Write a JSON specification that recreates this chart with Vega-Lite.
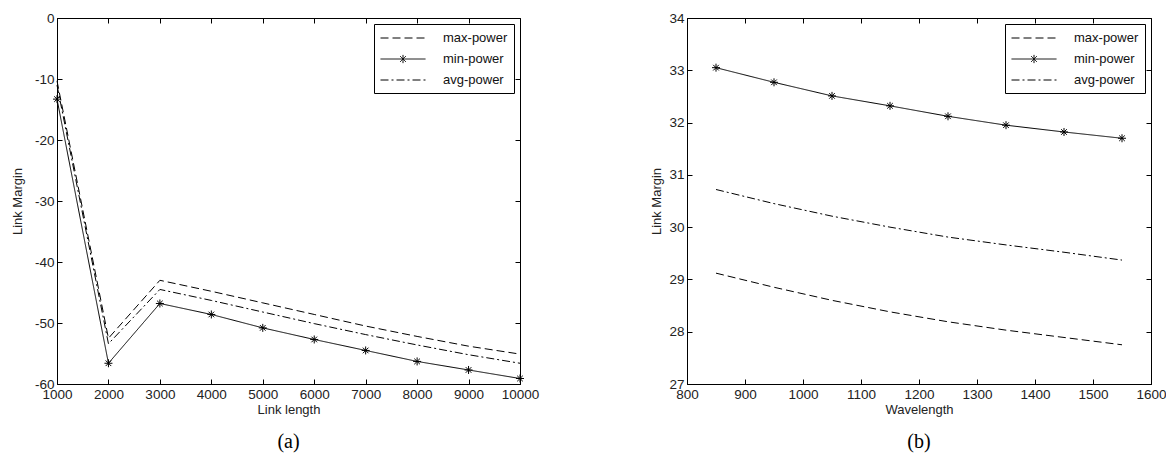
{
  "$schema": "https://vega.github.io/schema/vega-lite/v6.json",
  "background": "white",
  "padding": {"left": 10, "top": 10, "right": 5, "bottom": 5},
  "datasets": {
    "a": [
      {"length": 1000, "margin": -10.3, "series": "max-power"},
      {"length": 2000, "margin": -52.5, "series": "max-power"},
      {"length": 3000, "margin": -43.0, "series": "max-power"},
      {"length": 4000, "margin": -44.8, "series": "max-power"},
      {"length": 5000, "margin": -46.7, "series": "max-power"},
      {"length": 6000, "margin": -48.6, "series": "max-power"},
      {"length": 7000, "margin": -50.5, "series": "max-power"},
      {"length": 8000, "margin": -52.2, "series": "max-power"},
      {"length": 9000, "margin": -53.8, "series": "max-power"},
      {"length": 10000, "margin": -55.1, "series": "max-power"},
      {"length": 1000, "margin": -13.3, "series": "min-power"},
      {"length": 2000, "margin": -56.6, "series": "min-power"},
      {"length": 3000, "margin": -46.8, "series": "min-power"},
      {"length": 4000, "margin": -48.6, "series": "min-power"},
      {"length": 5000, "margin": -50.8, "series": "min-power"},
      {"length": 6000, "margin": -52.7, "series": "min-power"},
      {"length": 7000, "margin": -54.5, "series": "min-power"},
      {"length": 8000, "margin": -56.3, "series": "min-power"},
      {"length": 9000, "margin": -57.7, "series": "min-power"},
      {"length": 10000, "margin": -59.1, "series": "min-power"},
      {"length": 1000, "margin": -11.0, "series": "avg-power"},
      {"length": 2000, "margin": -53.4, "series": "avg-power"},
      {"length": 3000, "margin": -44.5, "series": "avg-power"},
      {"length": 4000, "margin": -46.3, "series": "avg-power"},
      {"length": 5000, "margin": -48.2, "series": "avg-power"},
      {"length": 6000, "margin": -50.1, "series": "avg-power"},
      {"length": 7000, "margin": -51.9, "series": "avg-power"},
      {"length": 8000, "margin": -53.6, "series": "avg-power"},
      {"length": 9000, "margin": -55.2, "series": "avg-power"},
      {"length": 10000, "margin": -56.6, "series": "avg-power"}
    ],
    "b": [
      {"wavelength": 850, "margin": 29.12, "series": "max-power"},
      {"wavelength": 950, "margin": 28.85, "series": "max-power"},
      {"wavelength": 1050, "margin": 28.6, "series": "max-power"},
      {"wavelength": 1150, "margin": 28.38, "series": "max-power"},
      {"wavelength": 1250, "margin": 28.19, "series": "max-power"},
      {"wavelength": 1350, "margin": 28.03, "series": "max-power"},
      {"wavelength": 1450, "margin": 27.89, "series": "max-power"},
      {"wavelength": 1550, "margin": 27.75, "series": "max-power"},
      {"wavelength": 850, "margin": 33.05, "series": "min-power"},
      {"wavelength": 950, "margin": 32.77, "series": "min-power"},
      {"wavelength": 1050, "margin": 32.51, "series": "min-power"},
      {"wavelength": 1150, "margin": 32.32, "series": "min-power"},
      {"wavelength": 1250, "margin": 32.12, "series": "min-power"},
      {"wavelength": 1350, "margin": 31.95, "series": "min-power"},
      {"wavelength": 1450, "margin": 31.82, "series": "min-power"},
      {"wavelength": 1550, "margin": 31.7, "series": "min-power"},
      {"wavelength": 850, "margin": 30.72, "series": "avg-power"},
      {"wavelength": 950, "margin": 30.45, "series": "avg-power"},
      {"wavelength": 1050, "margin": 30.21, "series": "avg-power"},
      {"wavelength": 1150, "margin": 30.0, "series": "avg-power"},
      {"wavelength": 1250, "margin": 29.81, "series": "avg-power"},
      {"wavelength": 1350, "margin": 29.66, "series": "avg-power"},
      {"wavelength": 1450, "margin": 29.52, "series": "avg-power"},
      {"wavelength": 1550, "margin": 29.37, "series": "avg-power"}
    ]
  },
  "hconcat": [
    {
      "width": 463,
      "height": 366,
      "data": {"name": "a"},
      "title": {"text": "(a)", "orient": "bottom", "anchor": "middle", "font": "Liberation Serif", "fontSize": 20, "fontWeight": "normal", "color": "#000", "offset": 15},
      "layer": [
        {
          "mark": {"type": "line", "color": "black", "strokeWidth": 1},
          "encoding": {
            "x": {"field": "length", "type": "quantitative", "scale": {"domain": [1000, 10000], "nice": false, "zero": false},
                  "axis": {"title": "Link length", "values": [1000, 2000, 3000, 4000, 5000, 6000, 7000, 8000, 9000, 10000], "labelExpr": "'' + datum.value"}},
            "y": {"field": "margin", "type": "quantitative", "scale": {"domain": [-60, 0], "nice": false, "zero": false},
                  "axis": {"title": "Link Margin", "values": [-60, -50, -40, -30, -20, -10, 0], "labelExpr": "'' + datum.value", "titlePadding": 10}},
            "strokeDash": {"field": "series", "type": "nominal",
                  "scale": {"domain": ["max-power", "min-power", "avg-power"], "range": [[8, 4], [1, 0], [8, 3, 2, 3]]},
                  "legend": {"title": null, "orient": "top-right",
                    "encode": {"symbols": {"update": {"shape": {"signal": "datum.value === 'min-power' ? 'M-3,0H3M0,-0.55V0.55M-0.4,-0.4L0.4,0.4M-0.4,0.4L0.4,-0.4' : 'M-3,0H3'"}}}}}}
          }
        },
        {
          "transform": [{"filter": "datum.series === 'min-power'"}],
          "mark": {"type": "point", "shape": "M-1,0H1M0,-1V1M-0.7,-0.7L0.7,0.7M-0.7,0.7L0.7,-0.7", "filled": false, "stroke": "black", "strokeWidth": 1, "size": 64, "opacity": 1},
          "encoding": {
            "x": {"field": "length", "type": "quantitative", "axis": null},
            "y": {"field": "margin", "type": "quantitative", "axis": null}
          }
        },
        {
          "mark": {"type": "point", "opacity": 0},
          "encoding": {
            "x": {"field": "length", "type": "quantitative", "axis": {"orient": "top", "labels": false, "title": null, "domain": false, "values": [1000, 2000, 3000, 4000, 5000, 6000, 7000, 8000, 9000, 10000]}},
            "y": {"field": "margin", "type": "quantitative", "axis": {"orient": "right", "labels": false, "title": null, "domain": false, "values": [-60, -50, -40, -30, -20, -10, 0]}}
          }
        }
      ],
      "resolve": {"axis": {"x": "independent", "y": "independent"}}
    },
    {
      "width": 464,
      "height": 366,
      "data": {"name": "b"},
      "title": {"text": "(b)", "orient": "bottom", "anchor": "middle", "font": "Liberation Serif", "fontSize": 20, "fontWeight": "normal", "color": "#000", "offset": 15},
      "layer": [
        {
          "mark": {"type": "line", "color": "black", "strokeWidth": 1},
          "encoding": {
            "x": {"field": "wavelength", "type": "quantitative", "scale": {"domain": [800, 1600], "nice": false, "zero": false},
                  "axis": {"title": "Wavelength", "values": [800, 900, 1000, 1100, 1200, 1300, 1400, 1500, 1600], "labelExpr": "'' + datum.value"}},
            "y": {"field": "margin", "type": "quantitative", "scale": {"domain": [27, 34], "nice": false, "zero": false},
                  "axis": {"title": "Link Margin", "values": [27, 28, 29, 30, 31, 32, 33, 34], "labelExpr": "'' + datum.value", "titlePadding": 5}},
            "strokeDash": {"field": "series", "type": "nominal",
                  "scale": {"domain": ["max-power", "min-power", "avg-power"], "range": [[8, 4], [1, 0], [8, 3, 2, 3]]},
                  "legend": {"title": null, "orient": "top-right",
                    "encode": {"symbols": {"update": {"shape": {"signal": "datum.value === 'min-power' ? 'M-3,0H3M0,-0.55V0.55M-0.4,-0.4L0.4,0.4M-0.4,0.4L0.4,-0.4' : 'M-3,0H3'"}}}}}}
          }
        },
        {
          "transform": [{"filter": "datum.series === 'min-power'"}],
          "mark": {"type": "point", "shape": "M-1,0H1M0,-1V1M-0.7,-0.7L0.7,0.7M-0.7,0.7L0.7,-0.7", "filled": false, "stroke": "black", "strokeWidth": 1, "size": 64, "opacity": 1},
          "encoding": {
            "x": {"field": "wavelength", "type": "quantitative", "axis": null},
            "y": {"field": "margin", "type": "quantitative", "axis": null}
          }
        },
        {
          "mark": {"type": "point", "opacity": 0},
          "encoding": {
            "x": {"field": "wavelength", "type": "quantitative", "axis": {"orient": "top", "labels": false, "title": null, "domain": false, "values": [800, 900, 1000, 1100, 1200, 1300, 1400, 1500, 1600]}},
            "y": {"field": "margin", "type": "quantitative", "axis": {"orient": "right", "labels": false, "title": null, "domain": false, "values": [27, 28, 29, 30, 31, 32, 33, 34]}}
          }
        }
      ],
      "resolve": {"axis": {"x": "independent", "y": "independent"}}
    }
  ],
  "spacing": 110,
  "resolve": {"scale": {"strokeDash": "independent"}, "legend": {"strokeDash": "independent"}},
  "config": {
    "view": {"stroke": "black", "strokeWidth": 1},
    "axis": {
      "grid": false,
      "labelFont": "Liberation Sans",
      "labelFontSize": 13.5,
      "labelColor": "#222",
      "titleFont": "Liberation Sans",
      "titleFontSize": 13,
      "titleFontWeight": "normal",
      "titleColor": "#222",
      "domainColor": "#000",
      "domainWidth": 1,
      "tickColor": "#000",
      "tickWidth": 1,
      "tickSize": -5,
      "labelPadding": 8,
      "labelFlush": false,
      "labelOverlap": false,
      "labelBound": false
    },
    "axisX": {"titlePadding": 3},
    "legend": {
      "offset": 6,
      "padding": 6,
      "fillColor": "white",
      "strokeColor": "black",
      "labelFont": "Liberation Sans",
      "labelFontSize": 13,
      "labelColor": "#111",
      "symbolType": "M-3,0H3",
      "symbolSize": 225,
      "symbolStrokeColor": "black",
      "symbolStrokeWidth": 1,
      "symbolFillColor": "transparent",
      "symbolOffset": 15,
      "labelOffset": 32,
      "rowPadding": 6
    }
  }
}
